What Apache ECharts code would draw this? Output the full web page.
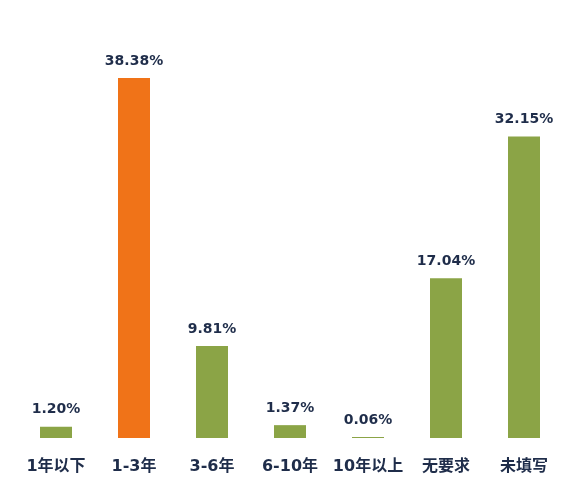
<!DOCTYPE html>
<html>
<head>
<meta charset="utf-8">
<script src="https://cdn.jsdelivr.net/npm/echarts@6/dist/echarts.min.js"></script>
<style>
  html, body { margin: 0; padding: 0; background: #fff; }
  #box { width: 580px; height: 499px; }
</style>
</head>
<body>
<div id="box"></div>
<script>
let categories = ['1年以下', '1-3年', '3-6年', '6-10年', '10年以上', '无要求', '未填写'];
let values = [1.20, 38.38, 9.81, 1.37, 0.06, 17.04, 32.15];
let highlightIndex = 1;

let green = '#8ba446';
let orange = '#f07318';
let textColor = '#1f2d4a';
let font = '"DejaVu Sans", "Noto Sans CJK SC", sans-serif';

let myChart = echarts.init(document.querySelector('#box'));
let option = {
    animation: false,
    grid: {
        left: 17,
        right: 17,
        top: 78,
        bottom: 61
    },
    xAxis: {
        type: 'category',
        data: categories,
        axisLine: { show: false },
        axisTick: { show: false },
        axisLabel: {
            interval: 0,
            hideOverlap: false,
            margin: 21,
            color: textColor,
            fontSize: 16,
            fontWeight: 'bold',
            fontFamily: font
        }
    },
    yAxis: {
        type: 'value',
        min: 0,
        max: 'dataMax',
        show: false,
        splitLine: { show: false }
    },
    series: [
        {
            type: 'bar',
            barWidth: 32,
            barMinHeight: 1,
            data: values.map((v, i) => ({
                value: v,
                itemStyle: { color: i === highlightIndex ? orange : green }
            })),
            label: {
                show: true,
                position: 'top',
                distance: 10,
                color: textColor,
                fontSize: 14,
                fontWeight: 'bold',
                fontFamily: font,
                formatter: p => p.value.toFixed(2) + '%'
            }
        }
    ]
};
myChart.setOption(option);
</script>
</body>
</html>
